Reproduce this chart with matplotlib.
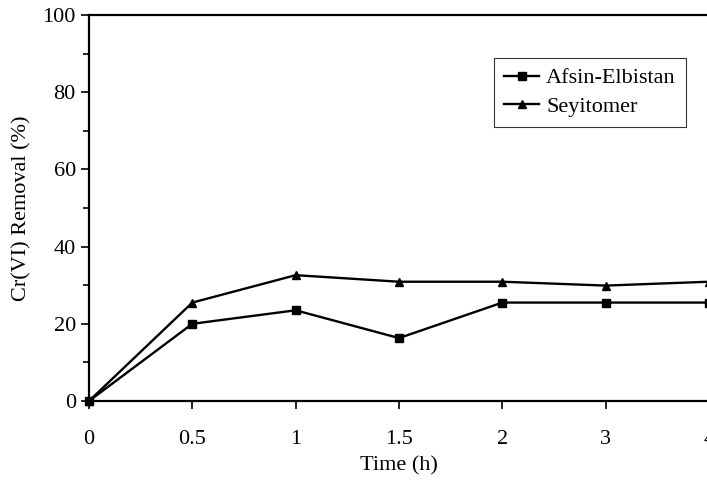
import matplotlib
matplotlib.use("Agg")
import matplotlib.pyplot as plt
from matplotlib.ticker import MultipleLocator

plt.rcParams['font.family'] = ['Liberation Serif', 'DejaVu Serif']

time_labels = ['0', '0.5', '1', '1.5', '2', '3', '4']
afsin = [0, 20, 23.5, 16.3, 25.5, 25.5, 25.5]
seyitomer = [0, 25.5, 32.6, 30.9, 30.9, 29.9, 30.9]

fig = plt.figure(figsize=(7.07, 4.92), dpi=100)
ax = fig.add_axes([89 / 707, 91 / 492, 620 / 707, 386 / 492])

pos = list(range(len(time_labels)))
ax.plot(pos, afsin, color='black', lw=1.7, marker='s', ms=6, label='Afsin-Elbistan', clip_on=False)
ax.plot(pos, seyitomer, color='black', lw=1.7, marker='^', ms=6, label='Seyitomer', clip_on=False)

ax.set_xlim(0, 6)
ax.set_ylim(0, 100)
ax.set_xticks(pos)
ax.set_xticklabels(time_labels)
ax.yaxis.set_major_locator(MultipleLocator(20))
ax.yaxis.set_minor_locator(MultipleLocator(10))

for s in ['left', 'bottom', 'top']:
    ax.spines[s].set_linewidth(1.6)
ax.spines['right'].set_visible(False)

ax.tick_params(axis='both', which='both', direction='out', width=1.2, labelsize=16)
ax.tick_params(axis='y', which='major', length=6)
ax.tick_params(axis='y', which='minor', length=4)
ax.tick_params(axis='x', which='major', length=6, pad=15)

ax.set_xlabel('Time (h)', fontsize=16, labelpad=5)
ax.set_ylabel('Cr(VI) Removal (%)', fontsize=16, labelpad=8)

leg = ax.legend(loc='upper left', bbox_to_anchor=(0.653, 0.889), borderaxespad=0,
                fontsize=16, frameon=True, fancybox=False, edgecolor='black',
                borderpad=0.45, handlelength=1.6, labelspacing=0.35, handletextpad=0.3)
leg.get_frame().set_linewidth(0.8)

fig.savefig('out.png', dpi=100)
